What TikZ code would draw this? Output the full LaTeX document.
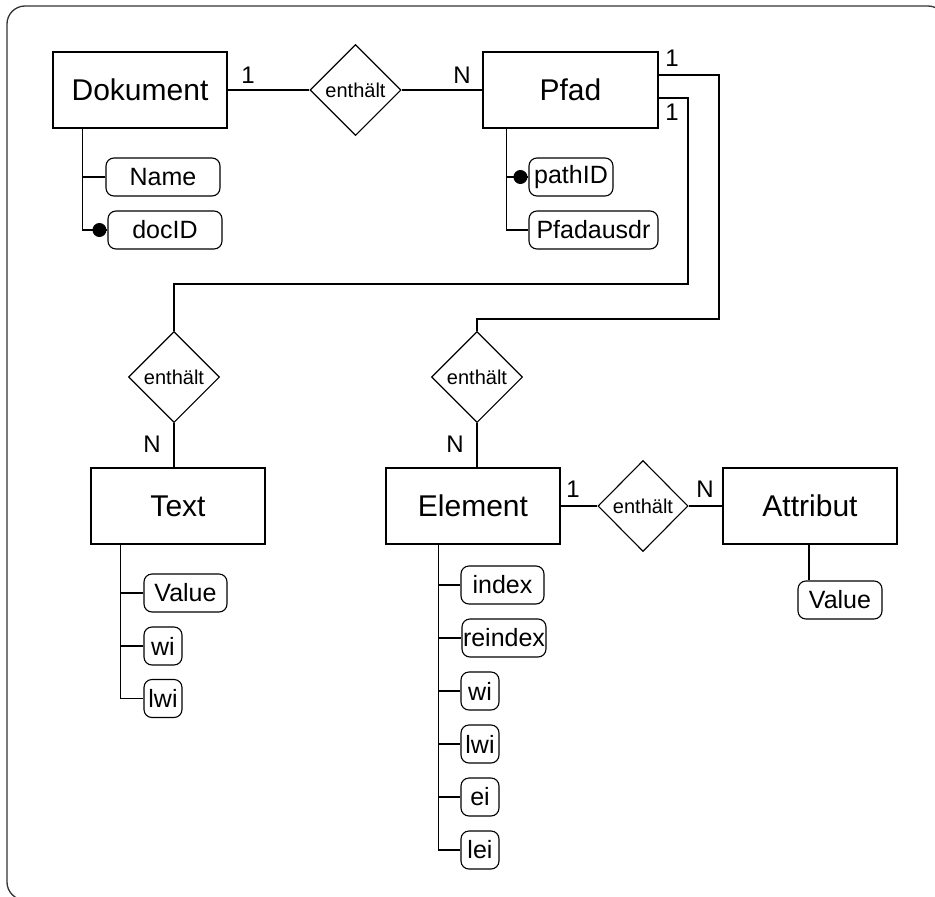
\documentclass[tikz,border=0pt]{standalone}
\usepackage{fontspec}
\setmainfont{Liberation Sans}
\usetikzlibrary{shapes.geometric,calc}
\begin{document}
\begin{tikzpicture}[x=1pt,y=-1pt,
  entity/.style={draw, line width=1.2pt, minimum width=174pt, minimum height=76pt, inner sep=0pt, font=\fontsize{30}{36}\selectfont},
  rel/.style={draw, diamond, line width=1.1pt, minimum width=91pt, minimum height=91pt, inner sep=0pt, font=\fontsize{20}{24}\selectfont},
  attrib/.style={draw, rounded corners=8pt, line width=1.1pt, minimum height=38pt, inner sep=0pt, font=\fontsize{25}{30}\selectfont},
  card/.style={font=\fontsize{24}{28}\selectfont, inner sep=0pt},
  conn/.style={line width=1.1pt},
  keydot/.style={fill=black}
]
\useasboundingbox (0,0) rectangle (935,897);
\begin{scope}
  \clip (0,0) rectangle (935,897);
  \draw[line width=1.3pt, black!80, rounded corners=18pt] (7,6) rectangle (946,900);
\end{scope}

% entities
\node[entity] (dok) at (140,90) {Dokument};
\node[entity, minimum width=175pt] (pfad) at (570.5,90) {Pfad};
\node[entity] (text) at (178,506) {Text};
\node[entity] (elem) at (473,506) {Element};
\node[entity] (attr) at (810,506) {Attribut};

% relationships
\node[rel] (r1) at (355.5,90) {enthält};
\node[rel] (r2) at (174,377) {enthält};
\node[rel] (r3) at (477,377) {enthält};
\node[rel, minimum width=90pt] (r4) at (643,506) {enthält};

% attributes
\node[attrib, minimum width=114pt] (name) at (163,177) {Name};
\node[attrib, minimum width=114pt] (docid) at (165,230) {docID};
\node[attrib, minimum width=84pt] (pathid) at (571,177) {pathID};
\node[attrib, minimum width=129pt] (pfadausdr) at (593.5,230) {Pfadausdr};
\node[attrib, minimum width=83pt] (tvalue) at (185.5,593) {Value};
\node[attrib, minimum width=38pt] (twi) at (163,646) {wi};
\node[attrib, minimum width=38pt] (tlwi) at (163,698.5) {lwi};
\node[attrib, minimum width=83pt] (index) at (502.5,585) {index};
\node[attrib, minimum width=84pt] (reindex) at (504,638) {reindex};
\node[attrib, minimum width=38pt] (ewi) at (480,691) {wi};
\node[attrib, minimum width=38pt] (elwi) at (480,744) {lwi};
\node[attrib, minimum width=38pt] (eei) at (480,797) {ei};
\node[attrib, minimum width=38pt] (elei) at (480,850) {lei};
\node[attrib, minimum width=84pt] (avalue) at (840,600) {Value};

% cardinalities
\node[card] (c1) at (248,75) {1};
\node[card] (c2) at (462,75) {N};
\node[card] (c3) at (672,58) {1};
\node[card] (c4) at (672,112) {1};
\node[card] (c5) at (152,444) {N};
\node[card] (c6) at (455,444) {N};
\node[card] (c7) at (573,489) {1};
\node[card] (c8) at (705,489) {N};

% connectors
\draw[conn] (dok.east) -- (r1.west);
\draw[conn] (r1.east) -- (pfad.west);
\draw[conn] ([yshift=15pt]pfad.east) -| (719,319) -| (r3.north);
\draw[conn] ([yshift=-8pt]pfad.east) -| (688,284) -| (r2.north);
\draw[conn] (r2.south) -- (r2.south |- text.north);
\draw[conn] (r3.south) -- (r3.south |- elem.north);
\draw[conn] (elem.east) -- (r4.west);
\draw[conn] (r4.east) -- (attr.west);

% attribute links
\draw[conn] ([xshift=30pt]dok.south west) |- (name.west);
\draw[conn] ([xshift=30pt]dok.south west) |- (docid.west);
\fill[keydot] ([xshift=-8pt]docid.west) circle (7pt);
\draw[conn] ([xshift=24pt]pfad.south west) |- (pathid.west);
\draw[conn] ([xshift=24pt]pfad.south west) |- (pfadausdr.west);
\fill[keydot] ([xshift=-8pt]pathid.west) circle (7pt);
\draw[conn] ([xshift=30pt]text.south west) |- (tvalue.west);
\draw[conn] ([xshift=30pt]text.south west) |- (twi.west);
\draw[conn] ([xshift=30pt]text.south west) |- (tlwi.west);
\draw[conn] ([xshift=53pt]elem.south west) |- (index.west);
\draw[conn] ([xshift=53pt]elem.south west) |- (reindex.west);
\draw[conn] ([xshift=53pt]elem.south west) |- (ewi.west);
\draw[conn] ([xshift=53pt]elem.south west) |- (elwi.west);
\draw[conn] ([xshift=53pt]elem.south west) |- (eei.west);
\draw[conn] ([xshift=53pt]elem.south west) |- (elei.west);
\draw[conn] ([xshift=-1pt]attr.south) -- ([xshift=-1pt]attr.south |- avalue.north);
\end{tikzpicture}
\end{document}
